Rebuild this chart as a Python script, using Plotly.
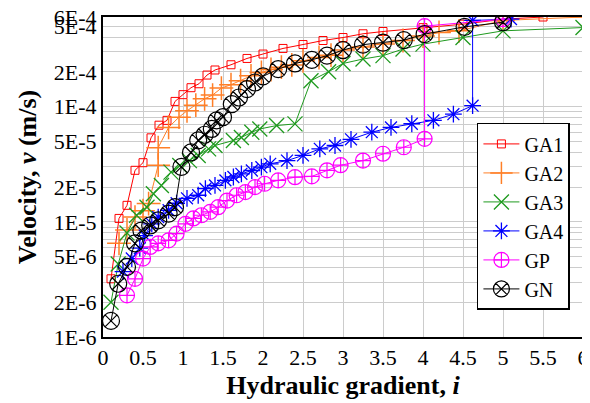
import plotly.graph_objects as go

# ---- data ----
GA1_x = [0.1, 0.2, 0.3, 0.4, 0.5, 0.6, 0.7, 0.8, 0.9, 1.0, 1.1, 1.2, 1.3, 1.4, 1.6, 1.8, 2.0,
         2.25, 2.5, 2.75, 3.0, 3.25, 3.5, 4.0, 4.5, 5.0, 5.5]
GA1_y = [3.2e-6, 1.07e-5, 1.39e-5, 2.8e-5, 3.26e-5, 5.36e-5, 6.9e-5, 7.6e-5, 1.11e-4, 1.27e-4,
         1.46e-4, 1.58e-4, 1.88e-4, 2.08e-4, 2.31e-4, 2.62e-4, 2.86e-4, 3.2e-4, 3.46e-4, 3.75e-4,
         3.98e-4, 4.29e-4, 4.49e-4, 4.85e-4, 5.2e-4, 5.74e-4, 6.0e-4]

GA2_x = [0.2, 0.3, 0.4, 0.5, 0.57, 0.69, 0.69, 0.82, 0.95, 1.05, 1.16, 1.27, 1.37, 1.48, 1.6,
         1.72, 1.85, 1.98, 2.1, 2.23, 2.36, 2.5, 2.7, 2.85, 3.0, 3.25, 3.5, 3.75, 4.0, 4.2, 4.45,
         5.0, 6.0]
GA2_y = [6.5e-6, 8.5e-6, 1.1e-5, 1.25e-5, 1.44e-5, 3.1e-5, 4.4e-5, 6.6e-5, 8.1e-5, 9.2e-5,
         1.03e-4, 1.17e-4, 1.26e-4, 1.45e-4, 1.55e-4, 1.68e-4, 1.85e-4, 1.98e-4, 2.1e-4, 2.2e-4,
         2.3e-4, 2.5e-4, 2.67e-4, 2.8e-4, 3.1e-4, 3.3e-4, 3.5e-4, 3.75e-4, 4.1e-4, 4.4e-4,
         4.55e-4, 5.6e-4, 6.0e-4]

GA3_x = [0.1, 0.19, 0.3, 0.42, 0.55, 0.63, 0.73, 0.85, 0.96, 1.08, 1.19, 1.32, 1.4, 1.63, 1.73,
         1.86, 1.96, 2.17, 2.4, 2.6, 2.82, 3.0, 3.25, 3.5, 3.75, 4.0, 4.5, 5.0, 6.0]
GA3_y = [2.0e-6, 4.3e-6, 8.0e-6, 1.14e-5, 1.34e-5, 1.75e-5, 2.07e-5, 2.7e-5, 3.08e-5, 3.4e-5,
         3.77e-5, 4.3e-5, 4.6e-5, 5.08e-5, 5.4e-5, 6.0e-5, 6.4e-5, 6.85e-5, 7.08e-5, 1.68e-4,
         2.01e-4, 2.37e-4, 2.59e-4, 2.77e-4, 3.16e-4, 3.49e-4, 3.98e-4, 4.55e-4, 4.86e-4]

GA4_x = [0.25, 0.36, 0.46, 0.52, 0.61, 0.69, 0.82, 0.92, 1.05, 1.19, 1.28, 1.4, 1.53, 1.63,
         1.73, 1.86, 1.98, 2.09, 2.3, 2.5, 2.71, 2.9, 3.1, 3.36, 3.6, 3.86, 4.13, 4.38, 4.62,
         4.62, 5.1]
GA4_y = [3.7e-6, 4.8e-6, 5.9e-6, 7.6e-6, 9.6e-6, 1.1e-5, 1.26e-5, 1.45e-5, 1.6e-5, 1.7e-5,
         1.94e-5, 2.07e-5, 2.29e-5, 2.45e-5, 2.61e-5, 2.79e-5, 2.98e-5, 3.19e-5, 3.4e-5,
         3.77e-5, 4.3e-5, 4.6e-5, 5.2e-5, 6.0e-5, 6.6e-5, 7.1e-5, 7.6e-5, 8.6e-5, 1.02e-4,
         5.6e-4, 5.75e-4]

GP_x = [0.3, 0.4, 0.5, 0.59, 0.69, 0.82, 0.92, 1.03, 1.13, 1.23, 1.34, 1.44, 1.55, 1.67, 1.78,
        1.9, 2.02, 2.19, 2.4, 2.61, 2.8, 2.97, 3.25, 3.5, 3.76, 4.02, 4.02, 5.0]
GP_y = [2.3e-6, 3.2e-6, 4.8e-6, 6.05e-6, 6.5e-6, 6.9e-6, 7.9e-6, 9.6e-6, 1.07e-5, 1.14e-5,
        1.22e-5, 1.34e-5, 1.53e-5, 1.7e-5, 1.81e-5, 2.0e-5, 2.14e-5, 2.29e-5, 2.44e-5, 2.48e-5,
        2.8e-5, 3.1e-5, 3.4e-5, 3.9e-5, 4.44e-5, 5.25e-5, 5.0e-4, 5.74e-4]

GN_x = [0.1, 0.19, 0.3, 0.4, 0.48, 0.59, 0.69, 0.82, 0.9, 0.98, 1.1, 1.19, 1.27, 1.36, 1.42,
        1.5, 1.61, 1.7, 1.8, 1.9, 2.0, 2.19, 2.4, 2.61, 2.8, 3.0, 3.25, 3.5, 3.76, 4.02, 4.52, 5.0]
GN_y = [1.38e-6, 2.9e-6, 4.06e-6, 6.5e-6, 8.4e-6, 9.3e-6, 1.03e-5, 1.18e-5, 1.34e-5, 3.0e-5,
        4.0e-5, 5.1e-5, 5.7e-5, 6.4e-5, 7.6e-5, 8.1e-5, 1.05e-4, 1.2e-4, 1.42e-4, 1.62e-4,
        1.83e-4, 2.12e-4, 2.37e-4, 2.55e-4, 2.77e-4, 3.1e-4, 3.45e-4, 3.6e-4, 3.78e-4, 4.26e-4,
        4.93e-4, 5.4e-4]

x_ticks = [0, 0.5, 1, 1.5, 2, 2.5, 3, 3.5, 4, 4.5, 5, 5.5, 6]
x_labels = ["0", "0.5", "1", "1.5", "2", "2.5", "3", "3.5", "4", "4.5", "5", "5.5", "6"]
y_labelled = {1e-6: "1E-6", 2e-6: "2E-6", 5e-6: "5E-6", 1e-5: "1E-5", 2e-5: "2E-5",
              5e-5: "5E-5", 1e-4: "1E-4", 2e-4: "2E-4", 5e-4: "5E-4", 6e-4: "6E-4"}

# gridline positions (every 1..9 per decade)
y_grid = []
for e in (-6, -5, -4):
    for m in range(1, 10):
        v = m * 10.0 ** e
        if v <= 6.0001e-4:
            y_grid.append(v)
y_text = []
for v in y_grid:
    lab = ""
    for k, t in y_labelled.items():
        if abs(v - k) / k < 1e-6:
            lab = t
    y_text.append(lab)

FONT = "Liberation Serif"

series = [
    ("GA1", GA1_x, GA1_y, "#ff0000", dict(symbol="square-open", size=8, line=dict(width=1))),
    ("GA2", GA2_x, GA2_y, "#ff7f27", dict(symbol="cross-thin-open", size=17, line=dict(width=1.5))),
    ("GA3", GA3_x, GA3_y, "#1f9a1f", dict(symbol="x-thin-open", size=15, line=dict(width=1.3))),
    ("GA4", GA4_x, GA4_y, "#0000ff", dict(symbol="asterisk-open", size=14, line=dict(width=1.3))),
    ("GP", GP_x, GP_y, "#ff00ff", dict(symbol="circle-cross-open", size=15, line=dict(width=1.2))),
    ("GN", GN_x, GN_y, "#000000", dict(symbol="circle-x-open", size=17, line=dict(width=1.2))),
]

fig = go.Figure()
for name, xs, ys, col, mk in series:
    mk = dict(mk)
    mk["color"] = col
    mk["line"] = dict(mk["line"], color=col)
    fig.add_trace(go.Scatter(x=xs, y=ys, mode="lines+markers", name=name,
                             line=dict(color=col, width=1), marker=mk))

fig.update_layout(
    width=582, height=395,
    margin=dict(l=95, r=7, t=9, b=66),
    paper_bgcolor="white", plot_bgcolor="white",
    font=dict(family=FONT, size=22, color="black"),
    showlegend=True,
    legend=dict(x=0.779, y=0.669, xanchor="left", yanchor="top",
                bgcolor="white", bordercolor="black", borderwidth=1.5,
                font=dict(family=FONT, size=20, color="black"),
                tracegroupgap=0, itemwidth=36),
)
fig.update_xaxes(
    range=[0, 6], tickmode="array", tickvals=x_ticks, ticktext=x_labels,
    showgrid=True, gridcolor="#cccccc", gridwidth=1, zeroline=False,
    showline=True, linecolor="black", linewidth=2, mirror=True, ticks="",
    tickfont=dict(family=FONT, size=22), ticklabeloverflow="allow",
    title=dict(text="<b>Hydraulic gradient, <i>i</i></b>", font=dict(family=FONT, size=26), standoff=6),
    automargin=False,
)
fig.update_yaxes(
    type="log", range=[-6, 0.77815 - 4],
    tickmode="array", tickvals=y_grid, ticktext=y_text,
    showgrid=True, gridcolor="#cccccc", gridwidth=1, zeroline=False,
    showline=True, linecolor="black", linewidth=2, mirror=True, ticks="",
    tickfont=dict(family=FONT, size=22), ticklabeloverflow="allow",
    title=dict(text="<b>Velocity, <i>v</i> (m/s)</b>", font=dict(family=FONT, size=26), standoff=10),
    automargin=False,
)

fig.write_html("out.html")
